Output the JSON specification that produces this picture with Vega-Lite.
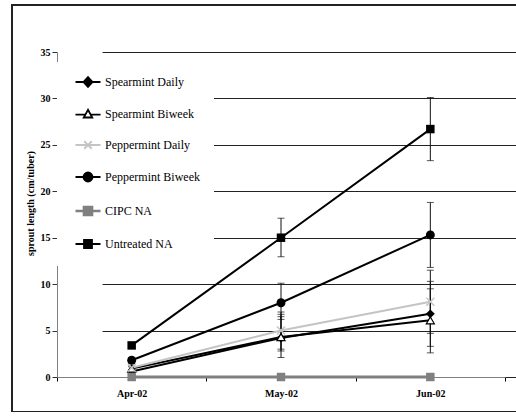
{
  "$schema": "https://vega.github.io/schema/vega-lite/v6.json",
  "width": 520,
  "height": 407,
  "autosize": "none",
  "padding": {"left": 12, "top": 5, "right": 0, "bottom": 0},
  "background": "white",
  "config": {
    "view": {"stroke": "#222", "strokeWidth": 2},
    "font": "Liberation Serif",
    "axisY": {
      "title": "sprout length (cm/tuber)",
      "offset": -45,
      "values": [0, 5, 10, 15, 20, 25, 30, 35],
      "grid": true,
      "gridColor": "#222",
      "gridWidth": 1,
      "domainColor": "#808080",
      "tickColor": "#333",
      "tickSize": 5,
      "labelPadding": 2,
      "labelFont": "Liberation Serif",
      "labelFontWeight": "bold",
      "labelFontSize": 10,
      "labelColor": "#000",
      "titleFont": "Liberation Serif",
      "titleFontWeight": "bold",
      "titleFontSize": 10,
      "titleColor": "#000",
      "titleX": -22,
      "titleY": 198,
      "titleBaseline": "bottom"
    }
  },
  "data": {
    "values": [
      {"series": "Spearmint Daily", "month": "Apr-02", "value": 0.6, "lo": 0.4, "hi": 0.8},
      {"series": "Spearmint Daily", "month": "May-02", "value": 4.2, "lo": 2.1, "hi": 6.5},
      {"series": "Spearmint Daily", "month": "Jun-02", "value": 6.8, "lo": 3.3, "hi": 10.3},
      {"series": "Spearmint Biweek", "month": "Apr-02", "value": 0.9, "lo": 0.7, "hi": 1.1},
      {"series": "Spearmint Biweek", "month": "May-02", "value": 4.3, "lo": 2.8, "hi": 6.75},
      {"series": "Spearmint Biweek", "month": "Jun-02", "value": 6.1, "lo": 2.6, "hi": 9.5},
      {"series": "Peppermint Daily", "month": "Apr-02", "value": 1.0, "lo": 0.8, "hi": 1.2},
      {"series": "Peppermint Daily", "month": "May-02", "value": 5.0, "lo": 3.0, "hi": 7.0},
      {"series": "Peppermint Daily", "month": "Jun-02", "value": 8.1, "lo": 4.7, "hi": 11.5},
      {"series": "Peppermint Biweek", "month": "Apr-02", "value": 1.8, "lo": 1.5, "hi": 2.1},
      {"series": "Peppermint Biweek", "month": "May-02", "value": 8.0, "lo": 6.2, "hi": 10.1},
      {"series": "Peppermint Biweek", "month": "Jun-02", "value": 15.3, "lo": 11.8, "hi": 18.8},
      {"series": "Untreated NA", "month": "Apr-02", "value": 3.4, "lo": 3.1, "hi": 3.7},
      {"series": "Untreated NA", "month": "May-02", "value": 15.0, "lo": 12.95, "hi": 17.1},
      {"series": "Untreated NA", "month": "Jun-02", "value": 26.7, "lo": 23.3, "hi": 30.1},
      {"series": "CIPC NA", "month": "Apr-02", "value": 0, "lo": 0, "hi": 0},
      {"series": "CIPC NA", "month": "May-02", "value": 0, "lo": 0, "hi": 0},
      {"series": "CIPC NA", "month": "Jun-02", "value": 0, "lo": 0, "hi": 0}
    ]
  },
  "encoding": {
    "x": {
      "field": "month",
      "type": "ordinal",
      "sort": ["Apr-02", "May-02", "Jun-02"],
      "bandPosition": 0.5,
      "scale": {"type": "band", "range": [45, 493], "paddingInner": 0, "paddingOuter": 0},
      "axis": {
        "title": null,
        "offset": -35,
        "labelAngle": 0,
        "tickBand": "extent",
        "tickSize": 4,
        "tickColor": "#000",
        "domainColor": "#808080",
        "domainWidth": 1,
        "labelFont": "Liberation Serif",
        "labelFontWeight": "bold",
        "labelFontSize": 10,
        "labelColor": "#000",
        "labelPadding": 7
      }
    },
    "y": {
      "field": "value",
      "type": "quantitative",
      "title": "sprout length (cm/tuber)",
      "scale": {"domain": [0, 35], "range": [372, 47], "nice": false, "zero": true}
    }
  },
  "layer": [
    {
      "mark": {"type": "rule", "color": "#111", "strokeWidth": 1},
      "encoding": {
        "y": {"field": "lo", "type": "quantitative", "title": "sprout length (cm/tuber)"},
        "y2": {"field": "hi"}
      }
    },
    {
      "mark": {"type": "tick", "orient": "horizontal", "size": 7, "thickness": 1, "color": "#111"},
      "encoding": {"y": {"field": "lo", "type": "quantitative", "title": "sprout length (cm/tuber)"}}
    },
    {
      "mark": {"type": "tick", "orient": "horizontal", "size": 7, "thickness": 1, "color": "#111"},
      "encoding": {"y": {"field": "hi", "type": "quantitative", "title": "sprout length (cm/tuber)"}}
    },
    {
      "mark": {"type": "line"},
      "encoding": {
        "color": {
          "field": "series",
          "type": "nominal",
          "scale": {
            "domain": ["Spearmint Daily", "Spearmint Biweek", "Peppermint Daily", "Peppermint Biweek", "CIPC NA", "Untreated NA"],
            "range": ["#000000", "#000000", "#c4c4c4", "#000000", "#808080", "#000000"]
          },
          "legend": {
            "title": null,
            "orient": "none",
            "legendX": 45,
            "legendY": 57,
            "fillColor": "white",
            "padding": 14,
            "symbolSize": 625,
            "symbolOffset": 11,
            "labelOffset": 11,
            "rowPadding": 15,
            "labelFont": "Liberation Serif",
            "labelFontSize": 12,
            "labelColor": "#000",
            "labelLimit": 300,
            "encode": {
              "symbols": {
                "update": {
                  "shape": {"signal": "datum.value === 'Spearmint Daily' ? 'M-1,0H1M0,-0.4L0.36,0L0,0.4L-0.36,0Z' : datum.value === 'Spearmint Biweek' ? 'M-1,0.05H-0.2M0.2,0.05H1M0,-0.34L0.34,0.28L-0.34,0.28Z' : datum.value === 'Peppermint Daily' ? 'M-1,0H1M-0.3,-0.3L0.3,0.3M-0.3,0.3L0.3,-0.3' : datum.value === 'Peppermint Biweek' ? 'M-1,0H1M0.36,0A0.36,0.36,0,1,1,-0.36,0A0.36,0.36,0,1,1,0.36,0Z' : 'M-1,0H1M-0.32,-0.32H0.32V0.32H-0.32Z'"},
                  "fill": {"signal": "datum.value === 'Spearmint Biweek' ? '#ffffff' : datum.value === 'Peppermint Daily' ? 'transparent' : datum.value === 'CIPC NA' ? '#808080' : '#000000'"},
                  "stroke": {"signal": "datum.value === 'Peppermint Daily' ? '#c4c4c4' : datum.value === 'CIPC NA' ? '#808080' : '#000000'"},
                  "strokeWidth": {"signal": "datum.value === 'CIPC NA' ? 2.6 : 1.8"},
                  "opacity": {"value": 1},
                  "fillOpacity": {"value": 1},
                  "strokeOpacity": {"value": 1}
                }
              }
            }
          }
        },
        "strokeWidth": {
          "condition": {"test": "datum.series === 'CIPC NA'", "value": 3},
          "value": 2
        }
      }
    },
    {
      "transform": [{"filter": "datum.series === 'Spearmint Daily'"}],
      "mark": {"type": "point", "shape": "diamond", "filled": true, "size": 80, "color": "#000", "opacity": 1}
    },
    {
      "transform": [{"filter": "datum.series === 'Spearmint Biweek'"}],
      "mark": {"type": "point", "shape": "triangle-up", "size": 64, "fill": "#fff", "stroke": "#000", "strokeWidth": 1.2, "opacity": 1}
    },
    {
      "transform": [{"filter": "datum.series === 'Peppermint Daily'"}],
      "mark": {"type": "point", "shape": "M-1,-1L1,1M-1,1L1,-1", "size": 64, "fill": null, "stroke": "#c4c4c4", "strokeWidth": 1.5, "opacity": 1}
    },
    {
      "transform": [{"filter": "datum.series === 'Peppermint Biweek'"}],
      "mark": {"type": "point", "shape": "circle", "filled": true, "size": 80, "color": "#000", "opacity": 1}
    },
    {
      "transform": [{"filter": "datum.series === 'CIPC NA' || datum.series === 'Untreated NA'"}],
      "mark": {"type": "point", "shape": "square", "filled": true, "size": 72, "opacity": 1},
      "encoding": {
        "fill": {
          "condition": {"test": "datum.series === 'CIPC NA'", "value": "#808080"},
          "value": "#000000"
        }
      }
    }
  ]
}
